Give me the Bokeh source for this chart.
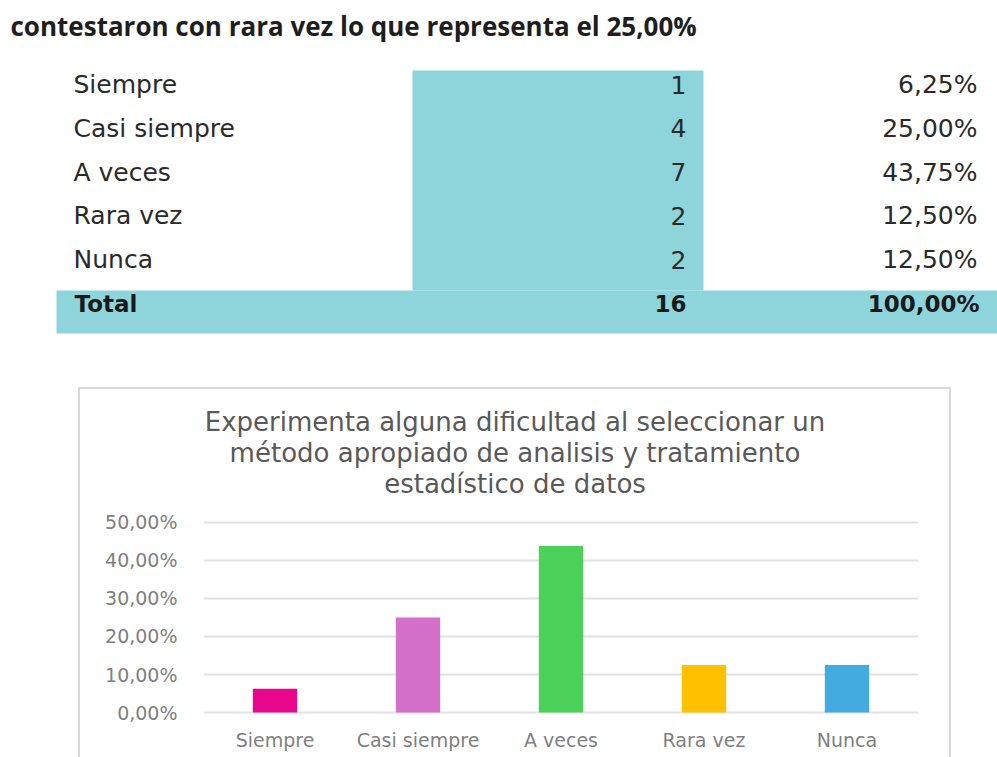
from bokeh.plotting import figure
from bokeh.layouts import column, row
from bokeh.models import Spacer, Range1d, FixedTicker, CustomJSTickFormatter, FactorRange, ColumnDataSource
from bokeh.core.properties import value
from bokeh.embed import file_html
from bokeh.resources import INLINE

# ---------------- data ----------------
header_text = "contestaron con rara vez lo que representa el 25,00%"
categories = ["Siempre", "Casi siempre", "A veces", "Rara vez", "Nunca"]
counts = [1, 4, 7, 2, 2]
percents = [6.25, 25.00, 43.75, 12.50, 12.50]
total_label = "Total"
chart_title = [
    "Experimenta alguna dificultad al seleccionar un",
    "método apropiado de analisis y tratamiento",
    "estadístico de datos",
]
y_ticks = [0, 10, 20, 30, 40, 50]

# ---------------- styles ----------------
bar_colors = ["#E8068C", "#D46FCA", "#4BD15A", "#FFC000", "#44ABE0"]
TEAL = "#8ED5DB"
BOX = "#dadada"
FONT = "DejaVu Sans"


def fmt_pct(v):
    return f"{v:.2f}".replace(".", ",") + "%"


def blank(fig):
    fig.grid.visible = False
    fig.outline_line_color = None
    fig.background_fill_color = None
    fig.border_fill_color = None


# ---------------- top figure: header + table ----------------
W1, H1 = 997, 387
t = figure(width=W1, height=H1, x_range=Range1d(0, W1), y_range=Range1d(H1, 0),
           output_backend="svg", toolbar_location=None, min_border=0,
           x_axis_type=None, y_axis_type=None)
blank(t)

t.text(x=[10], y=[25], text=[header_text], text_font=value("Open Sans"),
       text_font_size="26px", text_font_style="bold", text_color="#1e1e1e",
       text_align="left", text_baseline="middle")

row0, step = 84.0, 43.8
row_ys = [row0 + i * step for i in range(len(categories))]
total_y = row0 + len(categories) * step

t.quad(left=[412], right=[703], top=[70], bottom=[290], fill_color=TEAL, line_color=None)
t.quad(left=[56], right=[W1], top=[290], bottom=[333], fill_color=TEAL, line_color=None)

src = ColumnDataSource(dict(y=row_ys, label=categories, n=[str(c) for c in counts],
                            pct=[fmt_pct(p) for p in percents]))
common = dict(text_font=value(FONT), text_font_size="25px", text_color="#2a2a2a", text_baseline="middle")
t.text(x=73, y="y", text="label", source=src, text_align="left", **common)
t.text(x=686, y="y", text="n", source=src, text_align="right", **common)
t.text(x=977, y="y", text="pct", source=src, text_align="right", **common)

bold = dict(text_font=value(FONT), text_font_size="23px", text_font_style="bold",
            text_color="#1a1a1a", text_baseline="middle")
t.text(x=[74], y=[total_y], text=[total_label], text_align="left", **bold)
t.text(x=[686], y=[total_y], text=[str(sum(counts))], text_align="right", **bold)
t.text(x=[979], y=[total_y], text=[fmt_pct(sum(percents))], text_align="right", **bold)

# ---------------- chart box ----------------
box_l, box_r = 78, 951
WB = box_r - box_l
BL, BR = 125, 33          # chart frame borders inside the box
HT = 118
H2 = 757 - H1 - HT

# title part (frame aligned with chart frame; x range in box pixels)
ttl = figure(width=WB, height=HT, x_range=Range1d(BL, WB - BR), y_range=Range1d(HT, 0),
             output_backend="svg", toolbar_location=None,
             min_border_left=BL, min_border_right=BR, min_border_top=0, min_border_bottom=0,
             x_axis_type=None, y_axis_type=None)
blank(ttl)
ttl.text(x=WB / 2, y=[34, 65, 96], text=chart_title, text_font=value(FONT),
         text_font_size="26px", text_color="#595959", text_align="center", text_baseline="middle")

c = figure(width=WB, height=H2, x_range=FactorRange(factors=categories, range_padding=0),
           y_range=Range1d(-0.5, 51), output_backend="svg", toolbar_location=None,
           min_border_left=BL, min_border_right=BR, min_border_top=13, min_border_bottom=43)
c.background_fill_color = None
c.border_fill_color = None
c.outline_line_color = None

c.vbar(x=categories, top=percents, width=0.31, fill_color=bar_colors, line_color=None)

c.xgrid.visible = False
c.ygrid.grid_line_color = "#e2e2e2"
c.ygrid.grid_line_width = 2

c.yaxis.ticker = FixedTicker(ticks=y_ticks)
c.yaxis.formatter = CustomJSTickFormatter(code="return tick.toFixed(2).replace('.', ',') + '%';")
for ax in (c.xaxis, c.yaxis):
    ax.axis_line_color = None
    ax.major_tick_line_color = None
    ax.minor_tick_line_color = None
    ax.major_tick_out = 0
    ax.major_tick_in = 0
    ax.major_label_text_font = FONT
    ax.major_label_text_color = "#7f7f7f"
c.yaxis.major_label_text_font_size = "19px"
c.yaxis.major_label_standoff = 26
c.xaxis.major_label_text_font_size = "19px"
c.xaxis.major_label_standoff = 14

chart_box = column(ttl, c)
chart_box.styles = {"box-shadow": f"inset 2px 2px 0 {BOX}, inset -2px 0 0 {BOX}"}

layout = column(t, row(Spacer(width=box_l, height=HT + H2), chart_box))
open("out.html", "w").write(file_html(layout, INLINE))
